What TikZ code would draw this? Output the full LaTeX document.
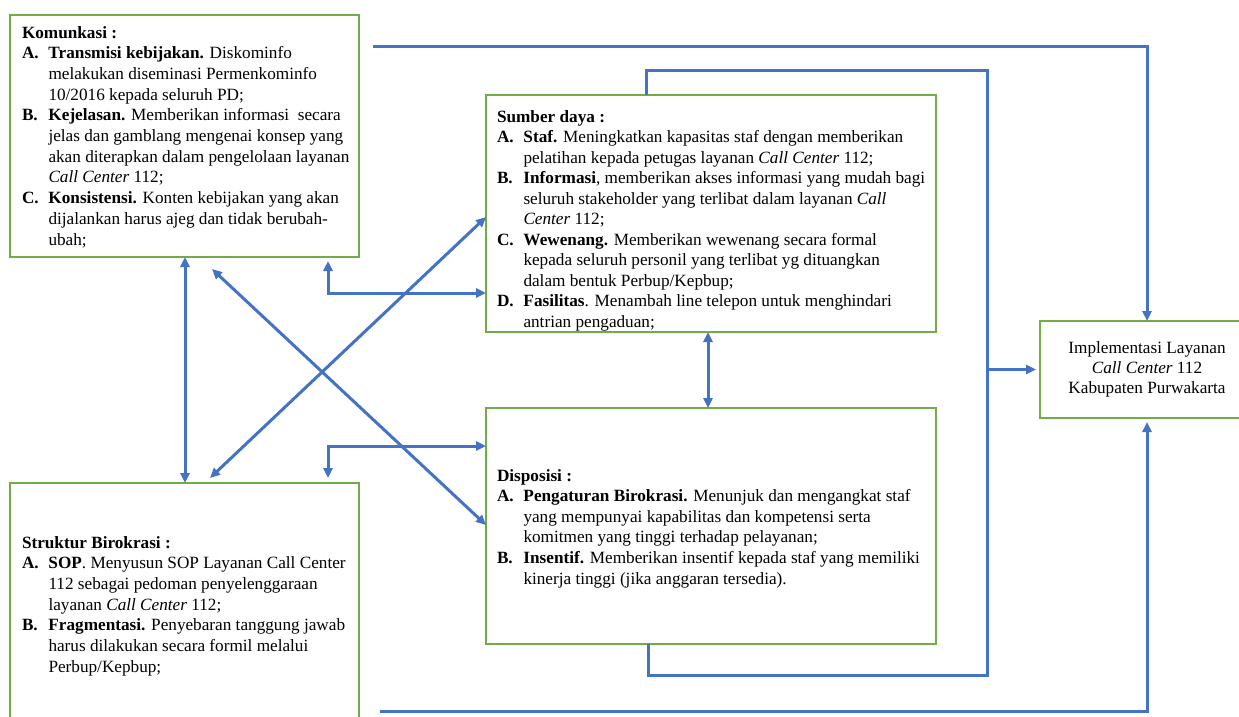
\documentclass[tikz,border=0pt]{standalone}
\usepackage{fontspec}
\setmainfont{Liberation Serif}
\usetikzlibrary{arrows.meta,calc}
\definecolor{lgreen}{RGB}{112,173,71}
\definecolor{lblue}{RGB}{68,114,196}
\newcommand{\LHead}[1]{\makebox[26.5pt][l]{\textbf{#1}}}
\newcommand{\LCont}{\hspace*{26.5pt}}
\newcommand{\BoxFont}{\fontsize{17.2}{20.7}\selectfont}
\begin{document}
\begin{tikzpicture}[x=1pt,y=-1pt,
  box/.style={draw=lgreen, line width=1.6pt, rectangle, inner sep=0pt, outer sep=0pt, anchor=north west},
  txt/.style={inner sep=0pt, outer sep=0pt, anchor=base west},
  conn/.style={draw=lblue, line width=3pt},
  >={Triangle[length=10pt,width=9pt]}]
\useasboundingbox (0,0) rectangle (1239,717);
\fill[white] (0,0) rectangle (1239,717);
\clip (0,0) rectangle (1239,717);

% boxes
\node[box, minimum width=349pt, minimum height=242pt] (kom) at (10,15) {};
\node[box, minimum width=450pt, minimum height=237pt] (sd) at (486,95) {};
\node[box, minimum width=450pt, minimum height=236pt] (disp) at (486,408) {};
\node[box, minimum width=349pt, minimum height=280pt] (sb) at (10,483) {};
\node[box, minimum width=214pt, minimum height=97pt] (impl) at (1040,321) {};

% texts
\node[txt] (kt) at (22,38) {\parbox[t]{340pt}{\BoxFont\raggedright
\textbf{Komunkasi :}\\
\LHead{A.}\textbf{Transmisi kebijakan.} Diskominfo\\
\LCont melakukan diseminasi Permenkominfo\\
\LCont 10/2016 kepada seluruh PD;\\
\LHead{B.}\textbf{Kejelasan.} Memberikan informasi\ \ secara\\
\LCont jelas dan gamblang mengenai konsep yang\\
\LCont akan diterapkan dalam pengelolaan layanan\\
\LCont \textit{Call Center} 112;\\
\LHead{C.}\textbf{Konsistensi.} Konten kebijakan yang akan\\
\LCont dijalankan harus ajeg dan tidak berubah-\\
\LCont ubah;}};

\node[txt] (sdt) at (497,122) {\parbox[t]{440pt}{\fontsize{17.2}{20.5}\selectfont\raggedright
\textbf{Sumber daya :}\\
\LHead{A.}\textbf{Staf.} Meningkatkan kapasitas staf dengan memberikan\\
\LCont pelatihan kepada petugas layanan \textit{Call Center} 112;\\
\LHead{B.}\textbf{Informasi}, memberikan akses informasi yang mudah bagi\\
\LCont seluruh stakeholder yang terlibat dalam layanan \textit{Call}\\
\LCont \textit{Center} 112;\\
\LHead{C.}\textbf{Wewenang.} Memberikan wewenang secara formal\\
\LCont kepada seluruh personil yang terlibat yg dituangkan\\
\LCont dalam bentuk Perbup/Kepbup;\\
\LHead{D.}\textbf{Fasilitas}. Menambah line telepon untuk menghindari\\
\LCont antrian pengaduan;}};

\node[txt] (dt) at (497,481) {\parbox[t]{440pt}{\fontsize{17.2}{20.6}\selectfont\raggedright
\textbf{Disposisi :}\\
\LHead{A.}\textbf{Pengaturan Birokrasi.} Menunjuk dan mengangkat staf\\
\LCont yang mempunyai kapabilitas dan kompetensi serta\\
\LCont komitmen yang tinggi terhadap pelayanan;\\
\LHead{B.}\textbf{Insentif.} Memberikan insentif kepada staf yang memiliki\\
\LCont kinerja tinggi (jika anggaran tersedia).}};

\node[txt] (sbt) at (22,548) {\parbox[t]{340pt}{\BoxFont\raggedright
\textbf{Struktur Birokrasi :}\\
\LHead{A.}\textbf{SOP}. Menyusun SOP Layanan Call Center\\
\LCont 112 sebagai pedoman penyelenggaraan\\
\LCont layanan \textit{Call Center} 112;\\
\LHead{B.}\textbf{Fragmentasi.} Penyebaran tanggung jawab\\
\LCont harus dilakukan secara formil melalui\\
\LCont Perbup/Kepbup;}};

\node[inner sep=0pt, align=center, font=\fontsize{17.2}{20}\selectfont] (it) at (impl.center)
  {Implementasi Layanan\\ \textit{Call Center} 112\\ Kabupaten Purwakarta};

% connectors
\coordinate (t0) at (373,46.5);
\coordinate (b0) at (380,711);
\coordinate (lp1) at (987,70.5);
\coordinate (lp2) at (987,675);

\draw[conn,->] (t0) -| (impl.north);
\draw[conn,->] (b0) -| ([yshift=-4pt]impl.south);
\draw[conn] ([xshift=160pt]sd.north west) |- (lp1) -- (lp2) -| ([xshift=162pt]disp.south west);
\draw[conn,->,shorten >=4pt] (lp1 |- impl.west) -- (impl.west);

\draw[conn,<->] ([xshift=175pt]kom.south west) -- ([xshift=175pt]sb.north west);
\draw[conn,<->] ($(kom.south west)+(202,12)$) -- ($(disp.north west)+(0,117)$);
\draw[conn,<->] ($(sb.north west)+(200,-5)$) -- ($(sd.north west)+(0,122)$);
\draw[conn,<->] ($(kom.south west)+(318,4)$) |- ($(sd.north west)+(0,198)$);
\draw[conn,<->] ($(sb.north west)+(318,-5)$) |- ($(disp.north west)+(0,38)$);
\draw[conn,<->] ([xshift=222pt]sd.south west) -- ([xshift=222pt]disp.north west);
\end{tikzpicture}
\end{document}
